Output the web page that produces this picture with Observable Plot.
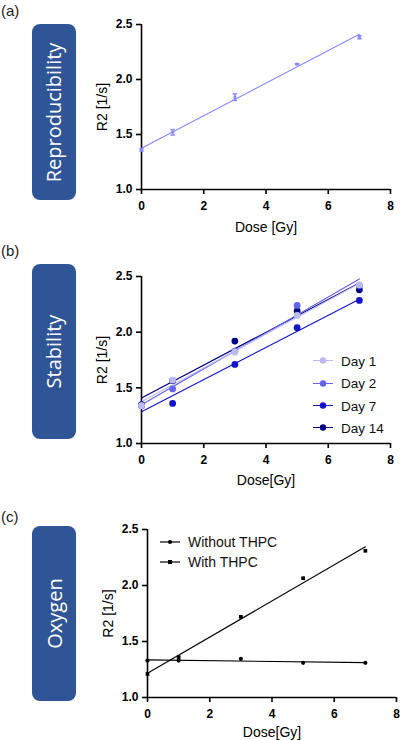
<!DOCTYPE html>
<html>
<head>
<meta charset="utf-8">
<script src="https://cdn.jsdelivr.net/npm/d3@7"></script>
<script src="https://cdn.jsdelivr.net/npm/@observablehq/plot@0.6"></script>
<style>
  body { margin: 0; background: #fff; font-family: "Liberation Sans", Arial, sans-serif; }
  #page { position: relative; width: 400px; height: 740px; overflow: hidden; }
  .panel { position: absolute; left: 0; }
  .tag { position: absolute; left: 1px; font-size: 15px; line-height: 15px; color: #222; }
  .box { position: absolute; left: 32px; width: 44px; background: #2f5597; border-radius: 8px;
         color: #fff; display: flex; align-items: center; justify-content: center; }
  .box span { transform: rotate(-90deg); white-space: nowrap; font-size: 20px; font-family: "Open Sans", "Liberation Sans", sans-serif; }
  .legend { position: absolute; font-size: 14px; color: #111; }
  .legend .row { position: absolute; left: 0; display: flex; align-items: center; white-space: nowrap; transform: translateY(-50%); }
  .legend svg { margin-right: 8px; }
  svg g[aria-label$="tick label"] { font-weight: bold; font-size: 12px; }
  svg g[aria-label$="axis label"] { font-size: 14px; font-weight: normal; }
</style>
</head>
<body>
<div id="page"></div>
<script>
// Dose levels shared by all three experiments (Gy)
const doses = [0, 1, 3, 5, 7];
const xTicks = [0, 2, 4, 6, 8];
const yTicks = [1.0, 1.5, 2.0, 2.5];

// (a) Reproducibility: mean R2 and spread
const reproMean = [1.36, 1.52, 1.84, 2.14, 2.385];
const reproErr = [0.01, 0.025, 0.03, 0.005, 0.015];
const reproColor = "#8a8aff";

// (b) Stability over storage time
const stabilitySeries = ["Day 1", "Day 2", "Day 7", "Day 14"];
const day1 = [1.34, 1.57, 1.82, 2.15, 2.425];
const day2 = [1.34, 1.49, 1.83, 2.24, 2.42];
const day7 = [1.34, 1.36, 1.71, 2.04, 2.285];
const day14 = [1.35, 1.565, 1.92, 2.19, 2.38];
const stabilityColors = ["#bcbcf2", "#6464ee", "#1414cc", "#000082"];

// (c) Oxygen sensitivity
const oxygenSeries = ["Without THPC", "With THPC"];
const withoutTHPC = [1.33, 1.33, 1.345, 1.31, 1.31];
const withTHPC = [1.21, 1.36, 1.72, 2.065, 2.31];
const oxygenSymbols = ["circle", "square"];

const font = "Liberation Sans, Arial, sans-serif";
const page = document.getElementById("page");

// horizontal cap used on the error bars
const capSymbol = {
  draw(context, size) {
    const r = Math.sqrt(size / Math.PI);
    context.moveTo(-r, 0);
    context.lineTo(r, 0);
  }
};

function frameAxes({xOffset, yOffset}) {
  return [
    Plot.ruleX([0], {stroke: "#000", strokeWidth: 1.6}),
    Plot.ruleY([1], {stroke: "#000", strokeWidth: 1.6}),
    Plot.axisX({ticks: xTicks, tickFormat: d3.format("d"), tickSize: 5, tickPadding: 7, strokeWidth: 1.6,
      label: "Dose [Gy]", labelAnchor: "center", labelOffset: xOffset, labelArrow: "none"}),
    Plot.axisY({ticks: yTicks, tickFormat: d3.format(".1f"), tickSize: 5, tickPadding: 4, strokeWidth: 1.6,
      label: "R2 [1/s]", labelAnchor: "center", labelOffset: yOffset, labelArrow: "none"})
  ];
}

function place(node, top) {
  node.classList.add("panel");
  node.style.top = top + "px";
  page.appendChild(node);
}

function addDiv(cls, html, style) {
  const d = document.createElement("div");
  d.className = cls;
  d.innerHTML = html;
  Object.assign(d.style, style);
  page.appendChild(d);
  return d;
}

function swatch(color, symbol) {
  const s = symbol === "square"
    ? `<rect x="8" y="3" width="4" height="4" fill="${color}"/>`
    : `<circle cx="10" cy="5" r="${symbol === "small" ? 2 : 3.2}" fill="${color}"/>`;
  return `<svg width="20" height="10"><line x1="0" x2="20" y1="5" y2="5" stroke="${color}" stroke-width="1.2"/>${s}</svg>`;
}

// ---------- (a) Reproducibility ----------
const repro = doses.map((d, i) => ({dose: d, r2: reproMean[i], lo: reproMean[i] - reproErr[i], hi: reproMean[i] + reproErr[i]}));
const plotA = Plot.plot({
  width: 400, height: 235,
  marginTop: 24, marginBottom: 46, marginLeft: 141, marginRight: 10,
  style: {fontFamily: font, fontSize: "12px", color: "#000", background: "transparent"},
  x: {domain: [0, 8]},
  y: {domain: [1, 2.5]},
  marks: [
    ...frameAxes({xOffset: 42, yOffset: 44}),
    Plot.linearRegressionY(repro, {x: "dose", y: "r2", stroke: reproColor, strokeWidth: 1.2, ci: 0}),
    Plot.ruleX(repro, {x: "dose", y1: "lo", y2: "hi", stroke: reproColor, strokeWidth: 1.5}),
    Plot.dot(repro, {x: "dose", y: "lo", symbol: capSymbol, r: 2.2, stroke: reproColor, fill: "none", strokeWidth: 1.5}),
    Plot.dot(repro, {x: "dose", y: "hi", symbol: capSymbol, r: 2.2, stroke: reproColor, fill: "none", strokeWidth: 1.5}),
    Plot.dot(repro, {x: "dose", y: "r2", r: 1.6, fill: reproColor})
  ]
});
place(plotA, 0);

// ---------- (b) Stability ----------
const stabilityValues = [day1, day2, day7, day14];
// later days are drawn first so the earlier days sit on top
const stability = stabilitySeries.flatMap((s, k) => doses.map((d, i) => ({series: s, dose: d, r2: stabilityValues[k][i]}))).reverse();
const plotB = Plot.plot({
  width: 400, height: 250,
  marginTop: 36, marginBottom: 47, marginLeft: 141, marginRight: 10,
  style: {fontFamily: font, fontSize: "12px", color: "#000", background: "transparent"},
  x: {domain: [0, 8]},
  y: {domain: [1, 2.5]},
  color: {domain: stabilitySeries, range: stabilityColors},
  marks: [
    ...frameAxes({xOffset: 41, yOffset: 44}),
    Plot.linearRegressionY(stability, {x: "dose", y: "r2", stroke: "series", strokeWidth: 1.2, ci: 0}),
    Plot.dot(stability, {x: "dose", y: "r2", fill: "series", r: 3.4})
  ]
});
plotB.querySelector('g[aria-label="x-axis label"] text').textContent = "Dose[Gy]";
place(plotB, 240);

// ---------- (c) Oxygen ----------
const oxygenValues = [withoutTHPC, withTHPC];
const oxygen = oxygenSeries.flatMap((s, k) => doses.map((d, i) => ({series: s, dose: d, r2: oxygenValues[k][i]})));
const plotC = Plot.plot({
  width: 400, height: 260,
  marginTop: 49, marginBottom: 43, marginLeft: 147, marginRight: 4,
  style: {fontFamily: font, fontSize: "12px", color: "#000", background: "transparent"},
  x: {domain: [0, 8]},
  y: {domain: [1, 2.5]},
  symbol: {domain: oxygenSeries, range: oxygenSymbols},
  marks: [
    ...frameAxes({xOffset: 39, yOffset: 44}),
    Plot.linearRegressionY(oxygen, {x: "dose", y: "r2", z: "series", stroke: "#000", strokeWidth: 1.1, ci: 0}),
    Plot.dot(oxygen, {x: "dose", y: "r2", symbol: "series", fill: "#000", r: 2.1})
  ]
});
plotC.querySelector('g[aria-label="x-axis label"] text').textContent = "Dose[Gy]";
place(plotC, 480);

// ---------- panel tags and side boxes ----------
addDiv("tag", "(a)", {top: "3px"});
addDiv("tag", "(b)", {top: "243px"});
addDiv("tag", "(c)", {top: "509px"});

addDiv("box", "<span>Reproducibility</span>", {top: "24px", height: "176px"});
addDiv("box", "<span>Stability</span>", {top: "264px", height: "175px"});
addDiv("box", "<span>Oxygen</span>", {top: "526px", height: "175px"});

// ---------- legends ----------
const legB = addDiv("legend", "", {left: "313px", top: "0px", fontSize: "13.5px"});
const rowsB = [360.7, 383.3, 405.7, 427.7];
stabilitySeries.forEach((s, k) => {
  const r = document.createElement("div");
  r.className = "row";
  r.style.top = rowsB[k] + "px";
  r.innerHTML = swatch(stabilityColors[k], "circle") + s;
  legB.appendChild(r);
});

const legC = addDiv("legend", "", {left: "160px", top: "0px", fontSize: "14px"});
const rowsC = [541.7, 561.7];
oxygenSeries.forEach((s, k) => {
  const r = document.createElement("div");
  r.className = "row";
  r.style.top = rowsC[k] + "px";
  r.innerHTML = swatch("#000", k === 0 ? "small" : "square") + s;
  legC.appendChild(r);
});
</script>
</body>
</html>
